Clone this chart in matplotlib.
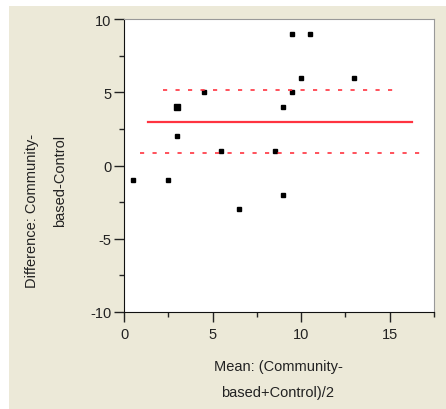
#!/usr/bin/env python3

import matplotlib
matplotlib.use("Agg")
import matplotlib.pyplot as plt
from matplotlib.patches import Rectangle


# Bland-Altman style data
mean_vals = [0.5, 2.5, 3.0, 3.0, 4.5, 5.5, 6.5, 8.5, 9.0, 9.0, 9.5, 9.5, 10.0, 10.5, 13.0]
diff_vals = [-1, -1, 4, 2, 5, 1, -3, 1, -2, 4, 9, 5, 6, 9, 6]
counts = [1, 1, 3, 1, 1, 1, 1, 1, 1, 1, 1, 1, 1, 1, 1]

# reference lines: level, start, end
mean_line = (3.0, 1.37, 16.28)
upper_line = (5.15, 2.22, 15.34)
lower_line = (0.88, 0.9, 16.98)

x_ticks = [0, 5, 10, 15]
y_ticks = [-10, -5, 0, 5, 10]

BG = "#ECE9D8"
RED = "#FF3340"

plt.rcParams["font.family"] = ["Liberation Sans", "DejaVu Sans"]
plt.rcParams["font.size"] = 10.5

fig = plt.figure(figsize=(4.46, 4.10), dpi=100)
fig.patch.set_facecolor("white")
fig.patches.append(Rectangle((9 / 446, 0), 1, (410 - 7) / 410, transform=fig.transFigure,
                             facecolor=BG, edgecolor="none", zorder=-10))

ax = fig.add_axes([124 / 446, 97 / 410, 310 / 446, 293 / 410])
ax.set_facecolor("white")

for x, y, n in zip(mean_vals, diff_vals, counts):
    ms = 2.4 if n == 1 else 5.0
    ax.plot(x, y, marker="s", color="black", markersize=ms, linestyle="none")

lvl, x0, x1 = mean_line
ax.plot([x0, x1], [lvl, lvl], color=RED, linewidth=1.6)
for lvl, x0, x1 in (upper_line, lower_line):
    ax.plot([x0, x1], [lvl, lvl], color=RED, linewidth=1.2,
            linestyle=(0, (2.5, 5.0)))

ax.set_xlim(0, 17.5)
ax.set_ylim(-10, 10)
ax.set_xticks(x_ticks)
ax.set_yticks(y_ticks)
ax.set_xticks([2.5, 7.5, 12.5, 17.5], minor=True)
ax.set_yticks([-7.5, -2.5, 2.5, 7.5], minor=True)
ax.tick_params(which="major", length=7, width=1, color="#222222", labelcolor="#222222")
ax.tick_params(axis="x", which="major", pad=4)
ax.tick_params(axis="y", which="major", pad=2)
ax.tick_params(which="minor", length=3.5, width=1, color="#222222")
ax.set_yticklabels([str(t) for t in y_ticks])

ax.spines["left"].set_color("#111111")
ax.spines["bottom"].set_color("#111111")
ax.spines["top"].set_color("#999999")
ax.spines["right"].set_color("#999999")

fig.text(278 / 446, 1 - 367 / 410, "Mean: (Community-", ha="center", va="center", color="#222222")
fig.text(278 / 446, 1 - 393 / 410, "based+Control)/2", ha="center", va="center", color="#222222")
fig.text(32 / 446, 1 - 211 / 410, "Difference: Community-", rotation=90,
         ha="center", va="center", color="#222222")
fig.text(60 / 446, 1 - 181 / 410, "based-Control", rotation=90,
         ha="center", va="center", color="#222222")

plt.savefig("out.png", dpi=100, facecolor=fig.get_facecolor())
plt.close()
